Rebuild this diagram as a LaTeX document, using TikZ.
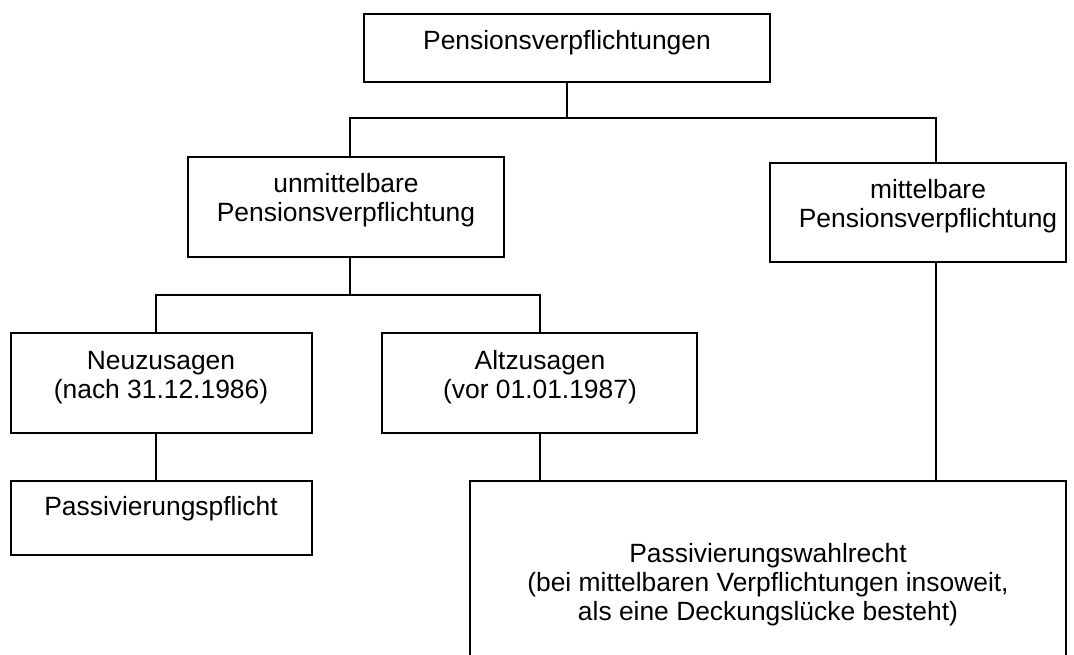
\documentclass[tikz,border=0pt]{standalone}
\usepackage{fontspec}
\setmainfont{Liberation Sans}
\begin{document}
\begin{tikzpicture}[x=1pt,y=-1pt,
  box/.style={draw=black, line width=1.6pt, inner sep=0pt, outer sep=0pt},
  txt/.style={inner sep=0pt, outer sep=0pt, anchor=base, font=\fontsize{26.4}{30.4}\selectfont, align=center},
  conn/.style={draw=black, line width=1.5pt}]
\useasboundingbox (0,0) rectangle (1074,655);
\clip (0,0) rectangle (1074,655);
% boxes (centre, width, height)
\node[box, minimum width=406pt, minimum height=68pt] (top) at (567,48) {};
\node[box, minimum width=316pt, minimum height=100pt] (unm) at (346,207) {};
\node[box, minimum width=296pt, minimum height=99pt] (mit) at (918,212.5) {};
\node[box, minimum width=301pt, minimum height=100pt] (neu) at (161.5,383) {};
\node[box, minimum width=315pt, minimum height=100pt] (alt) at (539.5,383) {};
\node[box, minimum width=301pt, minimum height=74pt] (pfl) at (161.5,518) {};
\node[box, minimum width=596pt, minimum height=200pt] (wahl) at (768,581) {};
% texts
\node[txt] (ttop) at (567,50) {Pensionsverpflichtungen};
\node[txt] (tunm1) at (346,193) {unmittelbare};
\node[txt] (tunm2) at (346,222) {Pensionsverpflichtung};
\node[txt] (tmit1) at (928,199) {mittelbare};
\node[txt] (tmit2) at (928,228) {Pensionsverpflichtung};
\node[txt] (tneu1) at (161,369) {Neuzusagen};
\node[txt] (tneu2) at (161,398) {(nach 31.12.1986)};
\node[txt] (talt1) at (540,369) {Altzusagen};
\node[txt] (talt2) at (540,398) {(vor 01.01.1987)};
\node[txt] (tpfl) at (161,515) {Passivierungspflicht};
\node[txt] (twahl1) at (768,562) {Passivierungswahlrecht};
\node[txt] (twahl2) at (768,591) {(bei mittelbaren Verpflichtungen insoweit,};
\node[txt] (twahl3) at (768,620) {als eine Deckungslücke besteht)};
% junction coordinates
\coordinate (j1) at (567,118);
\coordinate (j1l) at (350,118);
\coordinate (j1r) at (936,118);
\coordinate (unmtop) at (350,157);
\coordinate (unmbot) at (350,257);
\coordinate (mittop) at (936,163);
\coordinate (mitbot) at (936,262);
\coordinate (j2) at (350,295);
\coordinate (j2l) at (156,295);
\coordinate (j2r) at (540,295);
\coordinate (neutop) at (156,333);
\coordinate (neubot) at (156,433);
\coordinate (alttop) at (540,333);
\coordinate (altbot) at (540,433);
\coordinate (pfltop) at (156,481);
\coordinate (wahltopl) at (540,481);
\coordinate (wahltopr) at (936,481);
% connectors
\draw[conn] (top.south) -- (j1);
\draw[conn] (unmtop) -- (j1l) -- (j1r) -- (mittop);
\draw[conn] (unmbot) -- (j2);
\draw[conn] (neutop) -- (j2l) -- (j2r) -- (alttop);
\draw[conn] (neubot) -- (pfltop);
\draw[conn] (altbot) -- (wahltopl);
\draw[conn] (mitbot) -- (wahltopr);
\end{tikzpicture}
\end{document}
